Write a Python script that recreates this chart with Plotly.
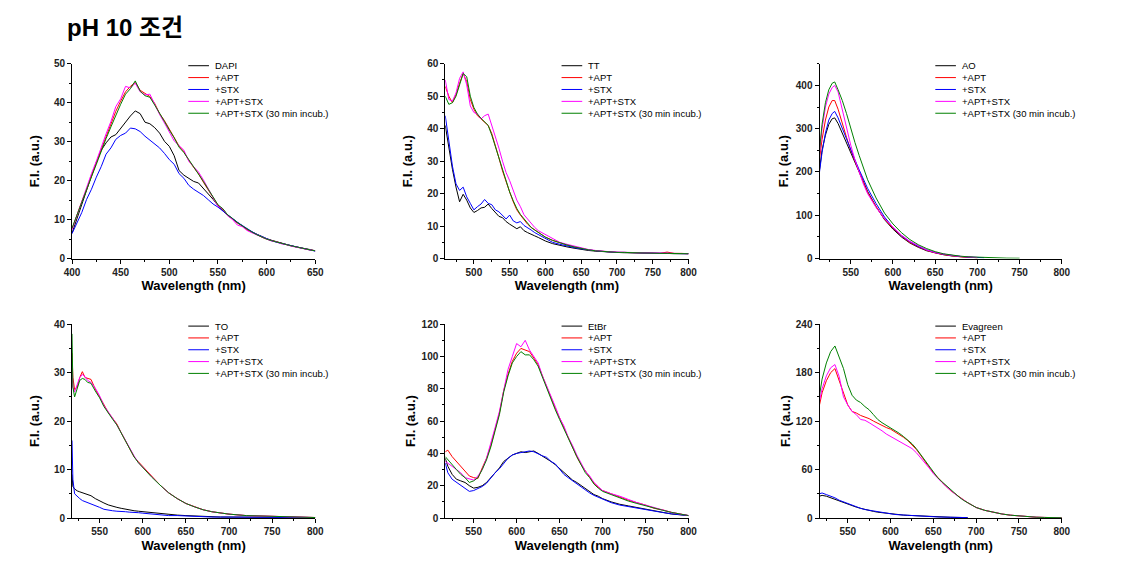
import plotly.graph_objects as go

# ---------------- data ----------------
SERIES_NAMES = ["+APT", "+STX", "+APT+STX", "+APT+STX (30 min incub.)"]
COLORS = {"dye": "#000000", "apt": "#FF0000", "stx": "#0000FF", "aptstx": "#FF00FF", "inc": "#008000"}

# Panel 1: DAPI
WL1 = list(range(400, 651, 5))
DAPI = [6.5, 10.2, 13.8, 18.0, 21.2, 24.7, 27.8, 29.7, 31.2, 31.8,
        33.4, 35.2, 36.6, 37.9, 37.2, 35.0, 34.6, 33.6, 32.2, 30.1,
        28.8, 26.4, 22.6, 21.4, 20.6, 19.8, 19.4, 18.0, 16.8, 15.2,
        13.6, 12.4, 11.0, 10.2, 9.4, 8.4, 7.4, 6.8, 6.1, 5.6,
        5.1, 4.7, 4.3, 4.0, 3.7, 3.3, 3.0, 2.8, 2.5, 2.3,
        2.0]
DAPI_APT = [7.6, 11.2, 14.6, 17.8, 21.4, 24.6, 28.0, 31.2, 34.4, 37.8,
            40.4, 42.8, 44.2, 45.2, 43.2, 42.4, 41.6, 39.8, 37.2, 35.4,
            33.2, 30.8, 28.9, 27.4, 25.2, 23.4, 21.8, 19.6, 17.6, 15.8,
            13.7, 12.6, 11.2, 10.1, 9.1, 8.4, 7.4, 6.8, 6.1, 5.5,
            5.0, 4.6, 4.2, 3.9, 3.6, 3.3, 3.0, 2.7, 2.5, 2.2,
            2.0]
DAPI_STX = [6.4, 9.0, 11.8, 15.2, 17.8, 20.9, 23.6, 26.8, 28.4, 30.6,
            31.6, 32.2, 33.5, 33.3, 32.6, 31.4, 30.4, 29.6, 28.4, 27.0,
            25.4, 24.2, 21.8, 20.6, 18.8, 17.8, 17.0, 16.2, 15.1, 14.0,
            13.2, 12.2, 11.4, 10.2, 9.3, 8.5, 7.6, 6.9, 6.2, 5.6,
            5.0, 4.6, 4.2, 3.9, 3.6, 3.3, 3.0, 2.7, 2.5, 2.2,
            1.9]
DAPI_APTSTX = [7.4, 11.0, 14.8, 18.2, 21.8, 25.0, 28.6, 32.0, 35.2, 39.0,
               41.0, 44.2, 43.8, 45.0, 42.8, 42.0, 42.2, 39.4, 37.0, 34.8,
               32.6, 30.2, 29.0, 27.8, 25.0, 23.6, 22.2, 20.2, 17.8, 15.6,
               13.4, 12.8, 11.0, 10.0, 8.6, 8.2, 7.2, 6.6, 6.0, 5.4,
               5.0, 4.5, 4.3, 3.8, 3.6, 3.2, 3.0, 2.7, 2.4, 2.2,
               2.0]
DAPI_INC = [7.8, 11.2, 14.6, 17.6, 21.0, 24.2, 27.6, 30.8, 33.8, 36.8,
            39.6, 42.2, 43.6, 45.6, 43.0, 41.8, 41.4, 39.4, 37.4, 35.2,
            33.0, 31.0, 28.6, 27.2, 25.4, 23.6, 21.8, 19.8, 17.8, 15.8,
            13.8, 12.8, 11.2, 10.3, 9.2, 8.4, 7.5, 6.8, 6.1, 5.5,
            5.0, 4.6, 4.2, 3.9, 3.6, 3.3, 3.0, 2.7, 2.5, 2.2,
            2.0]

# Panel 2: TT
WL2 = list(range(460, 601, 5)) + list(range(610, 801, 10))
TT = [41.0, 34.0, 27.5, 22.0, 17.5, 19.8, 18.0, 15.6, 14.2, 14.8,
      15.6, 15.8, 16.8, 15.4, 14.2, 13.0, 12.6, 11.4, 10.6, 10.0,
      9.2, 9.8, 8.6, 8.0, 7.6, 7.0, 6.5, 5.9, 5.4,
      4.6, 4.0, 3.6, 3.2, 2.8, 2.5, 2.3, 2.1, 2.0, 1.9,
      1.8, 1.8, 1.7, 1.7, 1.6, 1.6, 1.6, 1.5, 1.5, 1.5]
TT_STX = [44.0, 36.0, 28.5, 23.0, 21.0, 22.0, 19.0, 17.0, 15.0, 16.0,
          16.8, 18.2, 17.0, 16.6, 15.0, 14.4, 13.2, 12.2, 13.4, 11.6,
          11.0, 11.4, 10.2, 9.6, 8.8, 8.0, 7.4, 6.8, 6.0,
          5.0, 4.4, 3.8, 3.4, 3.0, 2.6, 2.4, 2.2, 2.0, 1.9,
          1.9, 1.8, 1.8, 1.7, 1.7, 1.6, 1.6, 1.6, 1.5, 1.5]
TT_APT = [53.0, 50.0, 48.0, 50.5, 54.0, 57.0, 54.5, 49.0, 46.0, 44.0,
          43.0, 42.0, 41.0, 38.5, 35.0, 31.0, 27.0, 23.5, 20.5, 17.5,
          15.0, 13.4, 12.0, 10.6, 9.6, 8.8, 8.0, 7.2, 6.6,
          5.6, 4.8, 4.2, 3.6, 3.1, 2.7, 2.4, 2.2, 2.0, 1.9,
          1.9, 1.8, 1.8, 1.7, 1.7, 1.6, 2.0, 1.6, 1.6, 1.5]
TT_APTSTX = [55.0, 49.0, 48.5, 51.0, 55.5, 57.5, 53.5, 47.0, 45.0, 44.5,
             43.0, 44.0, 44.5, 41.0, 38.0, 34.0, 30.0, 26.5, 24.0, 21.0,
             18.0, 16.0, 13.5, 12.2, 10.8, 9.6, 8.6, 8.0, 7.2,
             6.0, 5.0, 4.4, 3.8, 3.2, 2.8, 2.5, 2.2, 2.1, 2.0,
             1.9, 1.9, 1.8, 1.8, 1.7, 1.7, 1.6, 1.6, 1.6, 1.5]
TT_INC = [50.0, 47.5, 48.0, 50.0, 53.5, 57.0, 56.0, 50.0, 46.5, 44.5,
          43.2, 42.2, 41.0, 38.0, 34.5, 30.5, 27.0, 23.5, 20.5, 17.8,
          15.4, 13.6, 12.2, 10.8, 9.6, 8.8, 8.0, 7.3, 6.6,
          5.6, 4.8, 4.2, 3.6, 3.1, 2.7, 2.4, 2.2, 2.0, 1.9,
          1.9, 1.8, 1.8, 1.7, 1.7, 1.6, 1.6, 1.6, 1.5, 1.5]

# Panel 3: AO
WL3 = [513, 516, 520, 524, 528, 531, 535, 540, 545, 550, 555, 560, 565, 570,
       580, 590, 600, 610, 620, 630, 640, 650, 660, 670, 680, 690, 700]
WL3_STX = WL3 + [708]
WL3_INC = WL3 + [720, 735, 750]
AO = [205, 250, 285, 310, 323, 325, 312, 290, 265, 245, 222, 200, 178, 155,
      120, 90, 68, 50, 36, 26, 18, 13, 9, 6, 4, 3, 2]
AO_STX = [200, 245, 290, 320, 335, 340, 325, 300, 275, 250, 228, 205, 185, 162,
          127, 96, 72, 53, 39, 28, 20, 14, 10, 7, 5, 3.5, 2.5, 2]
AO_APT = [230, 275, 320, 350, 365, 365, 345, 310, 280, 250, 225, 200, 175, 152,
          120, 92, 70, 52, 37, 27, 19, 13, 9, 6, 4, 3, 2]
AO_APTSTX = [240, 300, 350, 380, 395, 400, 385, 345, 300, 262, 228, 198, 172, 150,
             118, 92, 72, 54, 40, 29, 20, 14, 10, 7, 5, 3.5, 2.5]
AO_INC = [250, 310, 360, 390, 405, 408, 390, 365, 335, 300, 268, 238, 210, 182,
          140, 105, 80, 60, 44, 32, 23, 16, 11, 8, 5.5, 4, 3, 1.5, 1, 0.8]

# Panel 4: TO
WL4 = [518, 519, 521, 524, 527, 530, 533, 536, 540] + list(range(545, 611, 5)) + \
      list(range(620, 701, 10)) + [720, 750, 775, 800]
TO = [9.0, 6.5, 6.0, 5.6, 5.4, 5.2, 5.0, 4.9, 4.6,
      4.0, 3.5, 3.1, 2.7, 2.4, 2.2, 2.0, 1.8, 1.6, 1.5, 1.4, 1.3, 1.2, 1.1,
      0.9, 0.7, 0.6, 0.5, 0.4, 0.3, 0.3, 0.2, 0.2,
      0.2, 0.1, 0.1, 0.1]
TO_STX = [16.0, 8.0, 5.0, 4.4, 4.0, 3.6, 3.4, 3.2, 3.0,
          2.6, 2.2, 1.8, 1.6, 1.5, 1.4, 1.4, 1.3, 1.2, 1.2, 1.1, 1.0, 0.9, 0.8,
          0.7, 0.5, 0.5, 0.4, 0.3, 0.3, 0.2, 0.2, 0.2,
          0.1, 0.1, 0.1, 0.1]
TO_APT = [34.0, 29.0, 26.5, 27.0, 29.0, 30.2, 29.0, 28.8, 28.6,
          26.6, 25.0, 23.6, 21.8, 20.6, 19.4, 17.6, 16.0, 14.2, 12.6, 11.6, 10.6, 9.6, 8.6,
          6.8, 5.2, 4.0, 3.0, 2.3, 1.7, 1.3, 1.0, 0.8,
          0.5, 0.3, 0.2, 0.1]
TO_APTSTX = [32.0, 27.0, 26.0, 27.5, 29.0, 29.6, 29.2, 28.4, 28.0,
             26.8, 25.2, 23.2, 22.0, 20.6, 19.2, 17.6, 15.8, 14.2, 12.8, 11.4, 10.4, 9.4, 8.6,
             6.8, 5.2, 4.0, 3.0, 2.3, 1.7, 1.3, 1.0, 0.8,
             0.5, 0.3, 0.2, 0.1]
TO_INC = [38.0, 27.0, 25.0, 27.0, 28.4, 28.8, 28.6, 28.0, 27.8,
          26.2, 24.8, 23.0, 21.6, 20.4, 19.2, 17.6, 16.0, 14.2, 12.6, 11.4, 10.4, 9.4, 8.5,
          6.8, 5.2, 4.0, 3.0, 2.3, 1.7, 1.3, 1.0, 0.8,
          0.5, 0.3, 0.2, 0.1]

# Panel 5: EtBr
WL5 = [517] + list(range(520, 701, 5)) + list(range(710, 801, 10))
ETBR = [37,
        32, 27, 24, 23, 22, 20, 18.5, 19, 20, 22,
        25, 28, 31, 35, 37, 39, 40, 41, 40.5, 41,
        41.5, 40, 38.5, 37, 35, 33, 30.5, 28, 25.5, 23.5,
        22, 20, 18, 16, 14.5, 13.5, 12,
        10, 8.5, 7.5, 6.5, 5.5, 4.5, 3.5, 2.5, 2, 1.5]
ETBR_STX = [34,
            28, 24, 22, 20, 18, 16.5, 17, 18, 19.5, 21.5,
            25, 28, 30.5, 34, 37, 39, 40, 40.5, 41, 41.5,
            41, 39.5, 38.5, 37.5, 35, 33.5, 30, 27, 25, 23,
            21, 19.5, 17.5, 15.5, 14, 13, 11.5,
            9.5, 8, 7, 6, 5, 4.2, 3.4, 2.6, 2, 1.5]
ETBR_APT = [41,
            42, 38, 35, 32, 29, 26, 25, 24.5, 31, 37,
            45, 55, 65, 79, 89, 97, 102, 105, 104, 103,
            99, 95, 88, 81, 75, 68, 62, 56, 49, 43,
            38, 33, 29, 25, 21.5, 19, 17,
            15, 13, 11, 9.5, 8, 6, 5, 3.5, 2.5, 1.5]
ETBR_APTSTX = [35,
               34, 32, 30, 28, 25, 24, 23.5, 26, 30, 37,
               46, 56, 66, 80, 92, 100, 108, 106, 110, 104,
               100, 96, 88, 82, 76, 69, 62, 57, 50, 45,
               39, 34, 29, 26, 22, 19.5, 17,
               15, 13.5, 11.5, 9.5, 8, 6.5, 5, 3.5, 2.5, 1.5]
ETBR_INC = [38,
            36, 33, 30, 27, 25, 22, 23, 25, 30, 36,
            44, 54, 64, 78, 88, 96, 100, 103, 101, 101,
            98, 94, 87, 80, 74, 67, 61, 55, 49, 43,
            38, 33, 28, 25, 21, 18.5, 16.5,
            14.5, 12.5, 10.5, 9, 7.5, 6, 4.8, 3.5, 2.5, 1.5]

# Panel 6: Evagreen
WL6 = [517] + list(range(520, 701, 5)) + list(range(710, 801, 10))
WL6_SHORT = [517] + list(range(520, 691, 5))
EVA = [27,
       28, 27, 25, 23, 21, 19, 17, 15, 13.5, 12,
       10.5, 9.5, 8.2, 7.2, 6.5, 5.8, 5, 4.5, 4, 3.6,
       3.3, 3, 2.7, 2.4, 2, 1.8, 1.5, 1.3, 1.2, 1,
       0.9, 0.8, 0.7, 0.6, 0.5]
EVA_STX = [30,
           31, 29, 27, 25, 22, 20, 17.5, 15.5, 13.5, 12,
           10.5, 9.5, 8.5, 7.5, 6.5, 5.8, 5, 4.4, 4, 3.6,
           3.3, 3, 2.6, 2.3, 2, 1.8, 1.5, 1.3, 1.2, 1,
           0.9, 0.8, 0.7, 0.6, 0.5]
EVA_APT = [140,
           155, 170, 180, 185, 170, 155, 140, 132, 130, 127,
           125, 123, 120, 117, 115, 112, 110, 107, 104, 100,
           96, 91, 85, 78, 70, 63, 56, 50, 44, 39,
           34, 30, 26, 22, 19, 16, 13,
           9.5, 7, 5, 3.5, 2.5, 1.6, 1.0, 0.7, 0.5, 0.3]
EVA_APTSTX = [145,
              160, 176, 186, 190, 175, 150, 140, 132, 128, 122,
              121, 118, 115, 111, 108, 104, 101, 99, 96, 93,
              90, 86, 81, 75, 68, 62, 55, 49, 44, 39,
              34, 30, 26, 22, 19, 16, 13,
              9.5, 7, 5, 3.5, 2.5, 1.6, 1.0, 0.7, 0.5, 0.3]
EVA_INC = [152,
           172, 192, 206, 213, 200, 185, 165, 152, 146, 143,
           138, 134, 128, 122, 118, 115, 112, 108, 105, 101,
           97, 92, 86, 79, 71, 64, 57, 50, 45, 40,
           35, 30, 26, 22, 19, 16, 13,
           9.5, 7, 5, 3.5, 2.5, 1.6, 1.0, 0.7, 0.5, 0.3]

DYES = ["DAPI", "TT", "AO", "TO", "EtBr", "Evagreen"]
X_RANGES = [[400, 650], [460, 800], [513, 800], [518, 800], [517, 800], [517, 800]]
Y_RANGES = [[0, 50], [0, 60], [0, 450], [0, 40], [0, 120], [0, 240]]
Y_DTICKS = [10, 10, 100, 10, 20, 60]

PANELS = [
    [(WL1, DAPI, "dye"), (WL1, DAPI_APT, "apt"), (WL1, DAPI_STX, "stx"),
     (WL1, DAPI_APTSTX, "aptstx"), (WL1, DAPI_INC, "inc")],
    [(WL2, TT, "dye"), (WL2, TT_APT, "apt"), (WL2, TT_STX, "stx"),
     (WL2, TT_APTSTX, "aptstx"), (WL2, TT_INC, "inc")],
    [(WL3, AO, "dye"), (WL3, AO_APT, "apt"), (WL3_STX, AO_STX, "stx"),
     (WL3, AO_APTSTX, "aptstx"), (WL3_INC, AO_INC, "inc")],
    [(WL4, TO, "dye"), (WL4, TO_APT, "apt"), (WL4, TO_STX, "stx"),
     (WL4, TO_APTSTX, "aptstx"), (WL4, TO_INC, "inc")],
    [(WL5, ETBR, "dye"), (WL5, ETBR_APT, "apt"), (WL5, ETBR_STX, "stx"),
     (WL5, ETBR_APTSTX, "aptstx"), (WL5, ETBR_INC, "inc")],
    [(WL6_SHORT, EVA, "dye"), (WL6, EVA_APT, "apt"), (WL6_SHORT, EVA_STX, "stx"),
     (WL6, EVA_APTSTX, "aptstx"), (WL6, EVA_INC, "inc")],
]

# ---------------- layout ----------------
W, H = 1122, 571
XD = [[65 / W, 312 / W], [444 / W, 691 / W], [824 / W, 1070 / W]]
YD = [[1 - 258 / H, 1 - 59 / H], [1 - 523 / H, 1 - 325 / H]]
Y_TITLE_STANDOFF = [11, 11, 4, 11, 3, 2]

FONT = "Arial, Liberation Sans, Noto Sans CJK KR, sans-serif"
fig = go.Figure()
layout = dict(width=W, height=H, margin=dict(l=0, r=0, t=0, b=0),
              paper_bgcolor="white", plot_bgcolor="white", showlegend=False,
              font=dict(family=FONT, color="black"))
annotations = []
shapes = []

for i in range(6):
    r, c = divmod(i, 3)
    sfx = "" if i == 0 else str(i + 1)
    xa, ya = "x" + sfx, "y" + sfx
    for (wl, vals, key) in PANELS[i]:
        fig.add_trace(go.Scatter(x=wl, y=vals, mode="lines", xaxis=xa, yaxis=ya,
                                 line=dict(color=COLORS[key], width=1), hoverinfo="skip"))
    common = dict(showline=True, linecolor="black", linewidth=1, ticks="outside",
                  ticklen=4, tickwidth=1, tickcolor="black", showgrid=False, zeroline=False,
                  tickfont=dict(family=FONT, size=10, color="#222222", weight="bold"))
    layout["xaxis" + sfx] = dict(common, domain=XD[c], anchor=ya, range=X_RANGES[i],
                                 dtick=50, tick0=0,
                                 minor=dict(ticks="outside", ticklen=2, tickcolor="black", dtick=25, tick0=0),
                                 title=dict(text="Wavelength (nm)", standoff=4,
                                            font=dict(family=FONT, size=13, weight="bold")))
    layout["yaxis" + sfx] = dict(common, domain=YD[r], anchor=xa, range=Y_RANGES[i],
                                 dtick=Y_DTICKS[i], tick0=0,
                                 minor=dict(ticks="outside", ticklen=2, tickcolor="black",
                                            dtick=Y_DTICKS[i] / 2, tick0=0),
                                 title=dict(text="F.I. (a.u.)", standoff=Y_TITLE_STANDOFF[i],
                                            font=dict(family=FONT, size=13, weight="bold")))
    # legend (per panel)
    labels = [DYES[i]] + SERIES_NAMES
    keys = ["dye", "apt", "stx", "aptstx", "inc"]
    for k in range(5):
        yy = 0.99 - k * 0.061
        shapes.append(dict(type="line", xref=xa + " domain", yref=ya + " domain",
                           x0=0.478, x1=0.563, y0=yy, y1=yy,
                           line=dict(color=COLORS[keys[k]], width=1)))
        annotations.append(dict(text=labels[k], xref=xa + " domain", yref=ya + " domain",
                                x=0.578, y=yy, xanchor="left", yanchor="middle",
                                showarrow=False, font=dict(family=FONT, size=9.5, color="black")))

annotations.append(dict(text="pH 10 조건", xref="paper", yref="paper", x=58 / W, y=1 - 22 / H,
                        xanchor="left", yanchor="middle", showarrow=False,
                        font=dict(family=FONT, size=24, color="black", weight="bold")))
layout["annotations"] = annotations
layout["shapes"] = shapes
fig.update_layout(**layout)
fig.write_html("out.html")
